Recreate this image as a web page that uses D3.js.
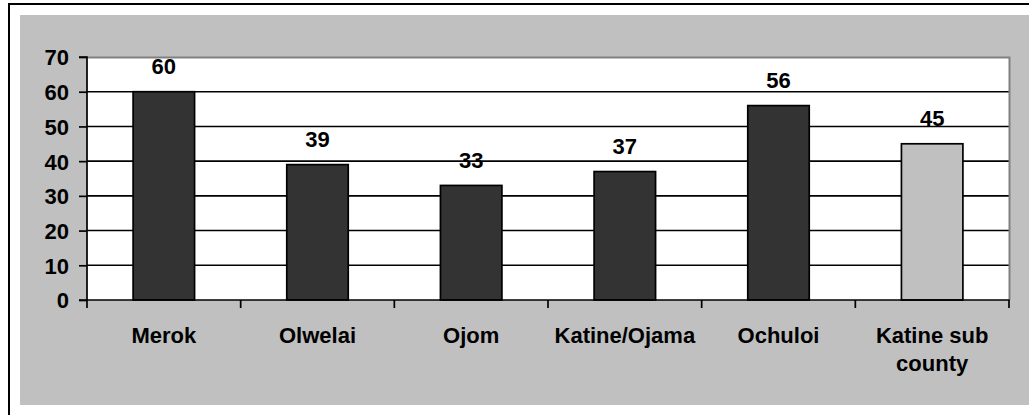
<!DOCTYPE html>
<html>
<head>
<meta charset="utf-8">
<script src="https://cdn.jsdelivr.net/npm/d3@7"></script>
<style>
  html, body { margin: 0; padding: 0; background: #fff; }
  svg { display: block; }
  text { font-family: "Liberation Sans", Arial, sans-serif; font-weight: bold; fill: #000; }
</style>
</head>
<body>
<svg id="chart" width="1029" height="415"></svg>
<script>
// Parishes and their percentages
const categories = ["Merok", "Olwelai", "Ojom", "Katine/Ojama", "Ochuloi", "Katine sub county"];
const values = [60, 39, 33, 37, 56, 45];
const categoryLines = [["Merok"], ["Olwelai"], ["Ojom"], ["Katine/Ojama"], ["Ochuloi"], ["Katine sub", "county"]];
const yTicks = [0, 10, 20, 30, 40, 50, 60, 70];

const svg = d3.select("#chart");
const W = 1029, H = 415;
const FONT = "22px";

// outer frame
svg.append("rect").attr("x", 0).attr("y", 0).attr("width", W).attr("height", H).attr("fill", "#fff");
svg.append("line").attr("x1", 8).attr("x2", W).attr("y1", 4).attr("y2", 4)
  .attr("stroke", "#000").attr("stroke-width", 2);
svg.append("line").attr("x1", 9).attr("x2", 9).attr("y1", 3).attr("y2", H)
  .attr("stroke", "#000").attr("stroke-width", 2);

// chart area background
svg.append("rect").attr("x", 20).attr("y", 15).attr("width", W - 20).attr("height", 390).attr("fill", "#c0c0c0");

const plot = { left: 87, right: 1009, top: 57, bottom: 300 };

const x = d3.scaleBand().domain(categories).range([plot.left, plot.right]).paddingInner(0.6).paddingOuter(0.3);
const xOuter = d3.scaleBand().domain(categories).range([plot.left, plot.right]);
const y = d3.scaleLinear().domain([0, 70]).range([plot.bottom, plot.top]);

// plot area
svg.append("rect").attr("x", plot.left).attr("y", plot.top)
  .attr("width", plot.right - plot.left).attr("height", plot.bottom - plot.top)
  .attr("fill", "#fff");

// gridlines
svg.append("g").selectAll("line").data(yTicks.filter(t => t > 0 && t < 70)).join("line")
  .attr("x1", plot.left).attr("x2", plot.right)
  .attr("y1", d => y(d)).attr("y2", d => y(d))
  .attr("stroke", "#000").attr("stroke-width", 1.6);

// plot border (top and right)
svg.append("path")
  .attr("d", `M${plot.left},${plot.top + 0.5}H${plot.right + 0.5}V${plot.bottom}`)
  .attr("fill", "none").attr("stroke", "#808080").attr("stroke-width", 2);

// bars
svg.append("g").selectAll("rect").data(values).join("rect")
  .attr("x", (d, i) => x(categories[i]))
  .attr("width", x.bandwidth())
  .attr("y", d => y(d))
  .attr("height", d => y(0) - y(d))
  .attr("fill", (d, i) => i === categories.length - 1 ? "#c0c0c0" : "#333333")
  .attr("stroke", "#000").attr("stroke-width", 1.7);

// value labels
svg.append("g").selectAll("text").data(values).join("text")
  .attr("x", (d, i) => x(categories[i]) + x.bandwidth() / 2)
  .attr("y", d => y(d) - 17.5)
  .attr("text-anchor", "middle")
  .attr("font-size", FONT)
  .text(d => d);

// y axis
const yAxis = d3.axisLeft(y).tickValues(yTicks).tickSize(8).tickPadding(10);
const gy = svg.append("g").attr("transform", `translate(${plot.left},0)`).call(yAxis);
gy.select(".domain").attr("stroke", "#000").attr("stroke-width", 1.7).attr("d", `M-8,${plot.top}H0V${plot.bottom}`);
gy.selectAll(".tick line").attr("stroke", "#000").attr("stroke-width", 1.7);
gy.selectAll(".tick text").attr("font-size", FONT).attr("font-family", null).attr("dy", "0.36em");

// x axis line and ticks at category boundaries
const gx = svg.append("g");
gx.append("line").attr("x1", plot.left - 8).attr("x2", plot.right + 0.5)
  .attr("y1", plot.bottom).attr("y2", plot.bottom)
  .attr("stroke", "#000").attr("stroke-width", 1.7);
const bounds = categories.map(c => xOuter(c)).concat([plot.right]);
gx.selectAll("line.tk").data(bounds).join("line").attr("class", "tk")
  .attr("x1", d => d).attr("x2", d => d)
  .attr("y1", plot.bottom).attr("y2", plot.bottom + 8)
  .attr("stroke", "#000").attr("stroke-width", 1.7);

// category labels
const cl = svg.append("g").selectAll("text").data(categoryLines).join("text")
  .attr("x", (d, i) => xOuter(categories[i]) + xOuter.bandwidth() / 2)
  .attr("y", 343)
  .attr("text-anchor", "middle")
  .attr("font-size", FONT);
cl.selectAll("tspan").data(d => d).join("tspan")
  .attr("x", function() { return this.parentNode.getAttribute("x"); })
  .attr("dy", (d, i) => i === 0 ? 0 : 28)
  .text(d => d);
</script>
</body>
</html>
